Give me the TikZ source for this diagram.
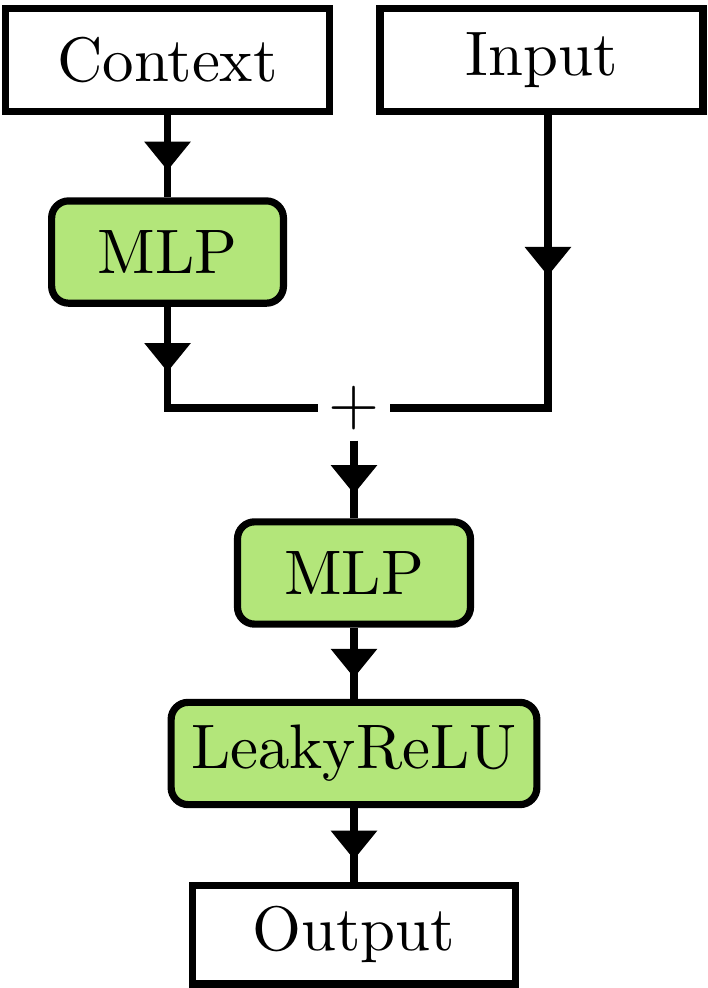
\documentclass[tikz,border=0pt]{standalone}
\usepackage{tikz}
\usetikzlibrary{positioning, arrows.meta, decorations.markings}
\definecolor{mlpgreen}{RGB}{179,230,122}

\begin{document}
\begin{tikzpicture}[
    % GLOBAL CFG
    font=\fontsize{10.5}{12.6}\selectfont,
    % Styles
    io/.style={% For the plain input and output boxes
        rectangle,
        draw,
        very thick,
        minimum height=0.6cm,
        },
    layer/.style={% For the green network blocks
        rectangle,
        rounded corners=1mm,
        draw,
        very thick,
        fill=mlpgreen,
        minimum height=0.6cm,
        },
    Conn/.style={% Plain connecting lines
        very thick,
        },
    MidTip/.style={% Triangle tip halfway along a segment
        postaction={decorate},
        decoration={markings,
            mark=at position 0.5 with {\fill (2.4pt,0) -- (-2.4pt,3.9pt) -- (-2.4pt,-3.9pt) -- cycle;}},
        },
    ]

    \useasboundingbox (-2.077,-3.403) rectangle (2.077,2.394);

    % Inputs
    \node [io, minimum width=1.9cm] (ctx) at (-1.094,2.042) {Context};
    \node [io, minimum width=1.895cm] (inp) at (1.1,2.042) {Input};

    % Blocks
    \node [layer, minimum width=1.36cm] (mlp1) at (-1.094,0.915) {MLP};
    \node [inner sep=1.6pt] (add1) at (0,0) {$+$};
    \node [layer, minimum width=1.367cm] (mlp2) at (0,-0.968) {MLP};
    \node [layer, minimum width=2.106cm] (relu) at (0,-2.027) {LeakyReLU};

    % Output
    \node [io, minimum width=1.895cm, minimum height=0.578cm] (out) at (0,-3.09) {Output};

    % Connections
    \draw [Conn, MidTip] (ctx) -- (mlp1);
    \draw [Conn] (mlp1) |- (add1);
    \path [MidTip] (mlp1) -- (mlp1 |- add1);

    \coordinate (i1) at ([xshift=0.038cm]inp.south);
    \draw [Conn] (i1) |- (add1);
    \path [MidTip] (i1) -- (i1 |- add1);

    \draw [Conn, MidTip] (add1) -- (mlp2);
    \draw [Conn, MidTip] (mlp2) -- (relu);
    \draw [Conn, MidTip] (relu) -- (out);

\end{tikzpicture}
\end{document}
